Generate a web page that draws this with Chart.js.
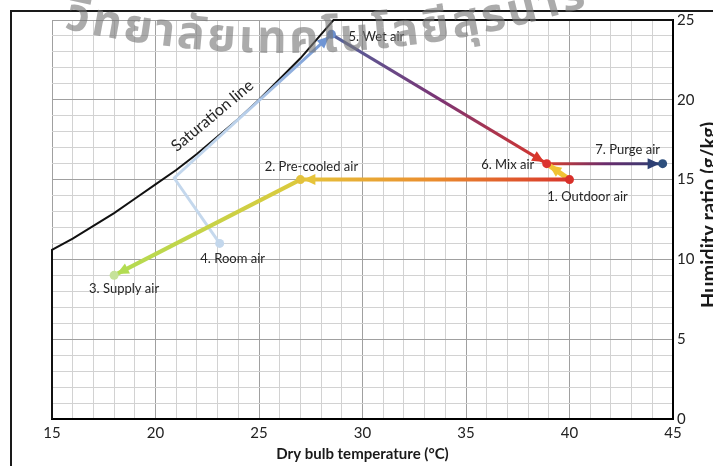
<!DOCTYPE html>
<html lang="en">
<head>
<meta charset="UTF-8" />
<title>Psychrometric process chart</title>
<script src="https://cdn.jsdelivr.net/npm/chart.js@4"></script>
<style>
  html, body { margin: 0; padding: 0; background: #fff; overflow: hidden; }
  #wrap { width: 713px; height: 466px; overflow: hidden; position: relative; }
  #chart { position: absolute; left: 0; top: 0; }
</style>
</head>
<body>
<div id="wrap"><canvas id="chart" width="750" height="466"></canvas></div>
<script>
// axis labels
const tempTicks = [15, 20, 25, 30, 35, 40, 45];
const humTicks = [0, 5, 10, 15, 20, 25];

// saturation curve: dry bulb (°C) vs humidity ratio (g/kg)
const satTemp = [15, 16, 17, 18, 19, 20, 21, 22, 23, 24, 25, 26, 27, 28, 28.6];
const satHum = [10.6, 11.3, 12.1, 12.9, 13.8, 14.7, 15.6, 16.6, 17.7, 18.8, 20.0, 21.3, 22.6, 24.1, 25.0];

// air states
const stateNames = ['1. Outdoor air', '2. Pre-cooled air', '3. Supply air', '4. Room air', '5. Wet air', '6. Mix air', '7. Purge air'];
const stateTemp = [40, 27, 18, 23.1, 28.5, 38.9, 44.5];
const stateHum = [15, 15, 9, 11, 24.1, 16, 16];

// corner on the room air -> wet air path
const bendTemp = [20.9];
const bendHum = [15.1];

// processes as state indices (-1 = the bend)
const processes = [[0, 1], [1, 2], [3, -1, 4], [4, 5], [0, 5], [5, 6]];

const processStyles = [
  { stops: ['#d8352b', '#ea8c2e', '#e6c43b'], width: 4, head: '#e6c43b' },
  { stops: ['#dcc93c', '#b2dc52'], width: 4, head: '#b2dc52' },
  { stops: ['#c6d9ed', '#bcd2eb', '#6f95d4'], width: 3, head: '#6f95d4' },
  { stops: ['#52649e', '#7b3474', '#d9362a'], width: 3, head: '#d9362a' },
  { stops: ['#f0c233', '#f2c63a'], width: 5, head: '#f0c233' },
  { stops: ['#d9402b', '#6b2c6c', '#2d3f73'], width: 3, head: '#2d3f73' },
];
const stateColors = ['#d8302a', '#e2c23c', '#c6e29a', '#c3d7ec', '#6c8fcc', '#dc3431', '#2e4f7d'];

function stateAt(i) {
  return i < 0 ? { x: bendTemp[0], y: bendHum[0] } : { x: stateTemp[i], y: stateHum[i] };
}

// gradient running from the first to the last point of a dataset
function pathGradient(stops) {
  return (ctx) => {
    const chart = ctx.chart;
    if (!chart.chartArea) return stops[0];
    const data = chart.data.datasets[ctx.datasetIndex].data;
    const a = data[0], b = data[data.length - 1];
    const xs = chart.scales.x, ys = chart.scales.y;
    const g = chart.ctx.createLinearGradient(
      xs.getPixelForValue(a.x), ys.getPixelForValue(a.y),
      xs.getPixelForValue(b.x), ys.getPixelForValue(b.y));
    stops.forEach((c, i) => g.addColorStop(i / (stops.length - 1), c));
    return g;
  };
}

const datasets = [];

datasets.push({
  label: 'States',
  data: stateTemp.map((t, i) => ({ x: t, y: stateHum[i] })),
  pointRadius: 4.5,
  pointBackgroundColor: stateColors,
  pointBorderWidth: 0,
  showLine: false,
  clip: false,
});

processes.forEach((p, k) => {
  const st = processStyles[k];
  datasets.push({
    label: 'Process ' + k,
    data: p.map(stateAt),
    showLine: true,
    borderColor: pathGradient(st.stops),
    borderWidth: st.width,
    borderJoinStyle: 'round',
    pointRadius: 0,
    arrowColor: st.head,
    clip: false,
  });
});

// saturation line, closed off along the left and top of the plot
datasets.push({
  label: 'Saturation line',
  data: [{ x: tempTicks[0], y: humTicks[0] }]
    .concat(satTemp.map((t, i) => ({ x: t, y: satHum[i] })))
    .concat([{ x: tempTicks[tempTicks.length - 1], y: humTicks[humTicks.length - 1] }]),
  showLine: true,
  borderColor: '#111',
  borderWidth: 2,
  pointRadius: 0,
  clip: false,
});

const arrowHeads = {
  id: 'arrowHeads',
  afterDatasetDraw(chart, args) {
    const ds = chart.data.datasets[args.index];
    if (!ds.arrowColor) return;
    const pts = args.meta.data;
    const a = pts[pts.length - 2], b = pts[pts.length - 1];
    const ang = Math.atan2(b.y - a.y, b.x - a.x);
    const c = chart.ctx;
    c.save();
    c.translate(b.x, b.y);
    c.rotate(ang);
    c.fillStyle = ds.arrowColor;
    c.beginPath();
    c.moveTo(-3, 0);
    c.lineTo(-15, -5.5);
    c.lineTo(-15, 5.5);
    c.closePath();
    c.fill();
    c.restore();
  },
};

const stateLabels = {
  id: 'stateLabels',
  afterDatasetsDraw(chart, args, opts) {
    const c = chart.ctx, xs = chart.scales.x, ys = chart.scales.y;
    c.save();
    c.font = opts.font;
    c.fillStyle = opts.color;
    c.textAlign = 'center';
    c.textBaseline = 'middle';
    stateNames.forEach((name, i) => {
      const o = opts.offsets[i];
      c.fillText(name, xs.getPixelForValue(stateTemp[i]) + o[0], ys.getPixelForValue(stateHum[i]) + o[1]);
    });
    // curve caption
    const s = opts.satCaption;
    c.font = s.font;
    c.translate(xs.getPixelForValue(s.x), ys.getPixelForValue(s.y));
    c.rotate(s.angle * Math.PI / 180);
    c.fillText(s.text, 0, 0);
    c.restore();
  },
};

const sideTitle = {
  id: 'sideTitle',
  afterDraw(chart, args, opts) {
    const c = chart.ctx;
    c.save();
    c.font = opts.font;
    c.fillStyle = opts.color;
    c.textAlign = 'left';
    c.textBaseline = 'alphabetic';
    c.translate(opts.x, opts.y);
    c.rotate(-Math.PI / 2);
    c.fillText(opts.text, 0, 0);
    c.restore();
  },
};

const frame = {
  id: 'frame',
  beforeDraw(chart) {
    const c = chart.ctx;
    c.save();
    c.fillStyle = '#fff';
    c.fillRect(0, 0, chart.width, chart.height);
    c.strokeStyle = '#1a1a1a';
    c.lineWidth = 2;
    c.beginPath();
    c.moveTo(11, chart.height);
    c.lineTo(11, 11);
    c.lineTo(chart.width, 11);
    c.stroke();
    c.restore();
  },
};

// text set along the lower rim of a circle
const watermark = {
  id: 'watermark',
  afterDraw(chart, args, opts) {
    const c = chart.ctx;
    c.save();
    c.font = opts.font;
    c.fillStyle = opts.color;
    c.textAlign = 'center';
    c.textBaseline = 'alphabetic';
    const seg = new Intl.Segmenter('th', { granularity: 'grapheme' });
    const parts = [...seg.segment(opts.text)].map((s) => s.segment);
    let s = opts.startX - opts.cx;
    for (const p of parts) {
      const w = c.measureText(p).width;
      const phi = (s + w / 2) / opts.r;
      c.save();
      c.translate(opts.cx + opts.r * Math.sin(phi), opts.cy + opts.r * Math.cos(phi));
      c.rotate(-phi);
      c.fillText(p, 0, 0);
      c.restore();
      s += w + opts.spacing;
    }
    c.restore();
  },
};

const gridColor = (ctx) => (ctx.tick && ctx.tick.value % 5 === 0 ? '#a0a0a0' : '#d2d2d2');

new Chart(document.getElementById('chart'), {
  type: 'scatter',
  data: { datasets },
  options: {
    responsive: false,
    animation: false,
    devicePixelRatio: 1,
    layout: { padding: { left: 52, top: 20, right: 37, bottom: 0 } },
    plugins: {
      legend: { display: false },
      tooltip: { enabled: false },
      stateLabels: {
        font: '13px Lato, sans-serif',
        color: '#262626',
        offsets: [[18, 17], [11, -13], [10, 13], [13, 15], [45, 2], [-39, 1], [-35, -14]],
        satCaption: { text: 'Saturation line', font: '16px Lato, sans-serif', x: 22.75, y: 19.0, angle: -40 },
      },
      sideTitle: {
        text: 'Humidity ratio (g/kg)',
        font: 'bold 20px Lato, sans-serif',
        color: '#1a1a1a',
        x: 716,
        y: 308,
      },
      watermark: {
        text: 'วิทยาลัยเทคโนโลยีสุรนารี',
        font: 'bold 46px "Noto Sans Thai", Loma, Garuda, "Tlwg Typo", sans-serif',
        color: 'rgba(120,120,120,0.62)',
        spacing: 3,
        startX: 62,
        cx: 285,
        cy: 53 - 1000,
        r: 1000,
      },
    },
    scales: {
      x: {
        type: 'linear',
        position: 'bottom',
        min: tempTicks[0],
        max: tempTicks[tempTicks.length - 1],
        afterFit: (s) => { s.height = 47; },
        ticks: {
          stepSize: 1,
          autoSkip: false,
          maxRotation: 0,
          padding: 5,
          color: '#222',
          font: { family: 'Lato', size: 15 },
          callback: (v) => (tempTicks.includes(v) ? v : ''),
        },
        grid: { color: gridColor, lineWidth: 1, drawTicks: false },
        border: { display: true, color: '#000', width: 2 },
        title: {
          display: true,
          text: 'Dry bulb temperature (°C)',
          color: '#1a1a1a',
          font: { family: 'Lato', size: 15, weight: 'bold' },
          padding: { top: 0, bottom: 3 },
        },
      },
      y: {
        type: 'linear',
        position: 'right',
        min: humTicks[0],
        max: humTicks[humTicks.length - 1],
        afterFit: (s) => { s.width = 40; },
        ticks: {
          stepSize: 1,
          autoSkip: false,
          padding: 4,
          color: '#222',
          font: { family: 'Lato', size: 15 },
          callback: (v) => (humTicks.includes(v) ? v : ''),
        },
        grid: { color: gridColor, lineWidth: 1, drawTicks: false },
        border: { display: true, color: '#000', width: 2 },
      },
    },
  },
  plugins: [frame, arrowHeads, stateLabels, sideTitle, watermark],
});
</script>
</body>
</html>
